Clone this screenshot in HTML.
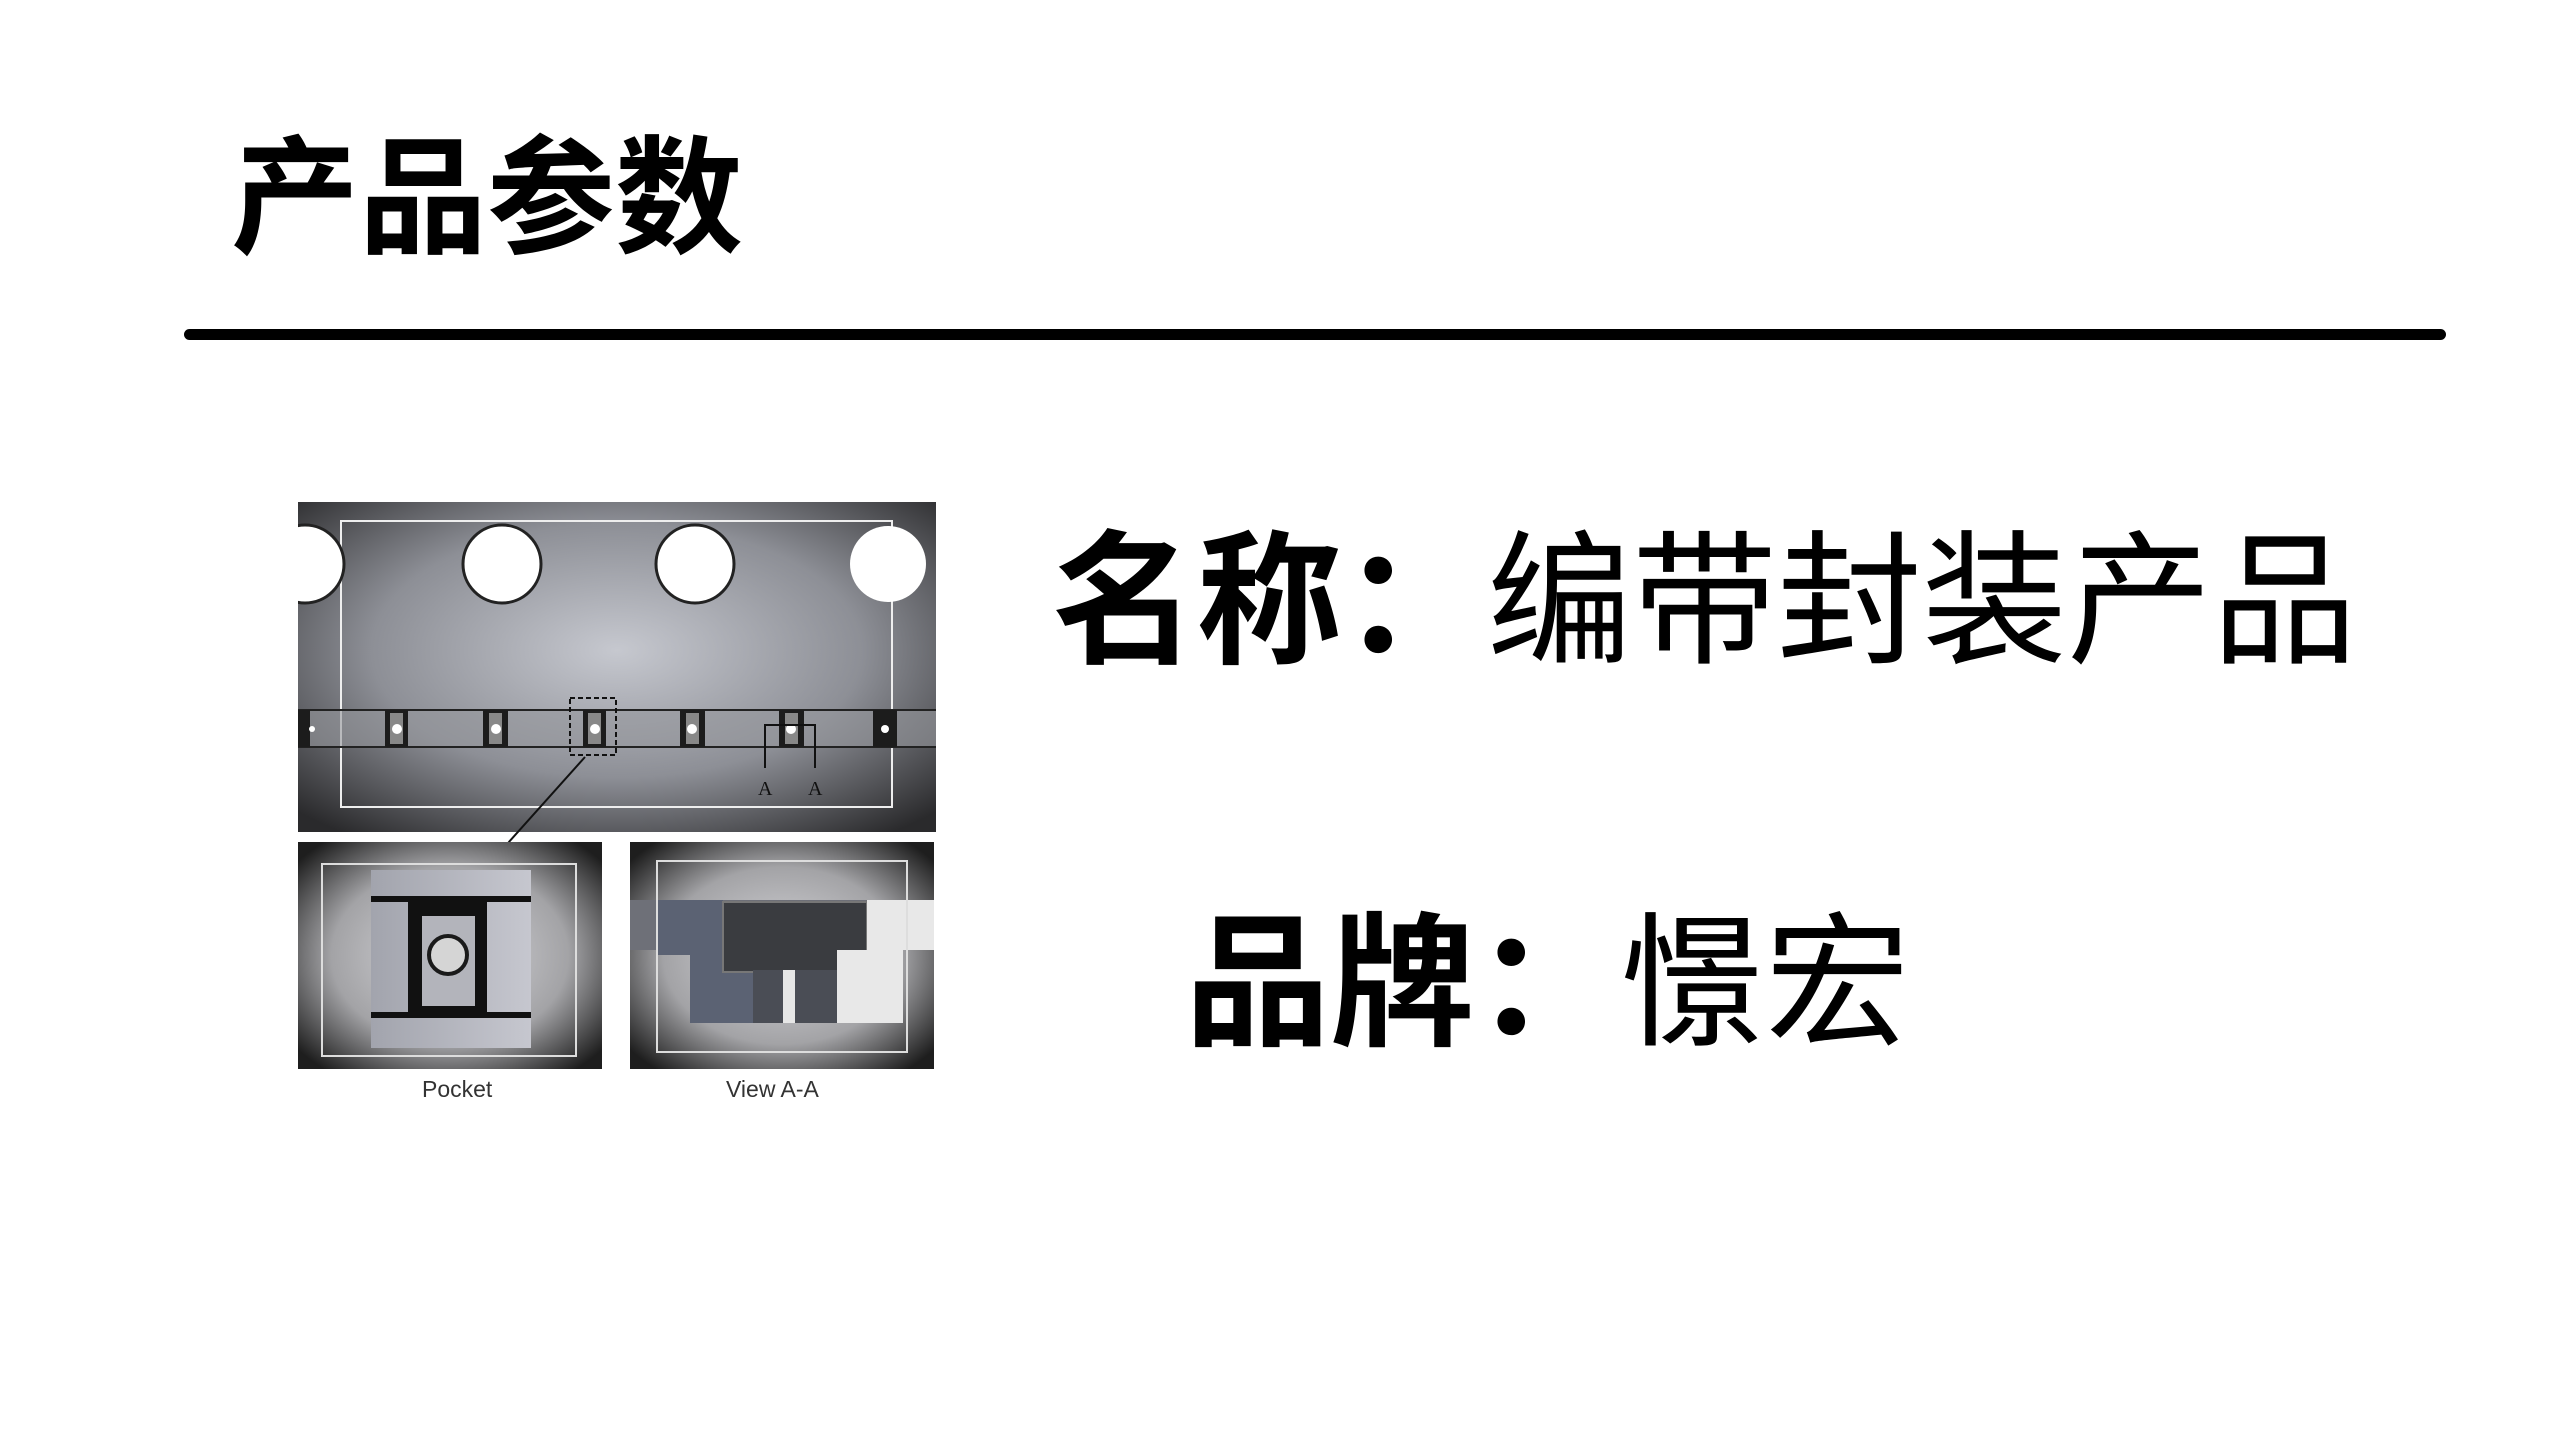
<!DOCTYPE html>
<html><head><meta charset="utf-8"><style>
html,body{margin:0;padding:0;background:#fff;width:2560px;height:1440px;overflow:hidden}
.t{position:absolute;white-space:nowrap;color:#000;font-family:"Liberation Sans","Noto Sans CJK SC",sans-serif;line-height:1}
</style></head><body>
<div class="t" style="left:231px;top:136px;font-size:128px;font-weight:bold;">产品参数</div>
<div style="position:absolute;left:184px;top:329px;width:2262px;height:11px;background:#000;border-radius:6px"></div>
<div class="t" style="left:1052px;top:530px;font-size:145px;"><b>名称：</b>编带封装产品</div>
<div class="t" style="left:1185px;top:912px;font-size:145px;"><b>品牌：</b>憬宏</div>

<svg width="2560" height="1440" style="position:absolute;left:0;top:0" xmlns="http://www.w3.org/2000/svg">
<defs>
<radialGradient id="g1" cx="0.5" cy="0.45" r="0.7">
<stop offset="0" stop-color="#c6c8cf"/><stop offset="0.55" stop-color="#8d8f96"/><stop offset="1" stop-color="#2a2a2c"/></radialGradient>
<radialGradient id="g2" cx="0.5" cy="0.5" r="0.65">
<stop offset="0" stop-color="#d8d8dc"/><stop offset="0.6" stop-color="#a3a3a6"/><stop offset="1" stop-color="#1e1e1e"/></radialGradient>
<linearGradient id="gp" x1="0" y1="0" x2="1" y2="0"><stop offset="0" stop-color="#a2a4ad"/><stop offset="1" stop-color="#c6c7cf"/></linearGradient>
<clipPath id="cp"><rect x="298" y="502" width="638" height="330"/></clipPath>
</defs>
<g clip-path="url(#cp)">
<rect x="298" y="502" width="638" height="330" fill="url(#g1)"/>
<rect x="341" y="521" width="551" height="286" fill="none" stroke="#eee" stroke-width="2"/>
<g fill="#fff" stroke="#222" stroke-width="3">
<circle cx="305" cy="564" r="39"/><circle cx="502" cy="564" r="39"/><circle cx="695" cy="564" r="39"/><circle cx="888" cy="564" r="38" stroke="none"/>
</g>
<rect x="298" y="710" width="638" height="37" fill="#96979d" opacity="0.6"/>
<line x1="298" y1="710" x2="936" y2="710" stroke="#222" stroke-width="2"/>
<line x1="298" y1="747" x2="936" y2="747" stroke="#222" stroke-width="2"/>
<g fill="#1c1c1c">
<rect x="385" y="710" width="23" height="37"/><rect x="483" y="710" width="25" height="37"/><rect x="583" y="710" width="23" height="37"/><rect x="680" y="710" width="25" height="37"/><rect x="779" y="710" width="25" height="37"/><rect x="873" y="710" width="24" height="37"/><rect x="298" y="710" width="12" height="37"/>
</g>
<g fill="#888"><rect x="390" y="713" width="13" height="31"/><rect x="489" y="713" width="13" height="31"/><rect x="588" y="713" width="13" height="31"/><rect x="686" y="713" width="13" height="31"/><rect x="785" y="713" width="13" height="31"/></g>
<g fill="#fff"><circle cx="397" cy="729" r="5"/><circle cx="496" cy="729" r="5"/><circle cx="595" cy="729" r="5"/><circle cx="692" cy="729" r="5"/><circle cx="791" cy="729" r="5"/><circle cx="885" cy="729" r="4"/><circle cx="312" cy="729" r="3"/></g>
</g>
<rect x="570" y="698" width="46" height="57" fill="none" stroke="#111" stroke-width="2" stroke-dasharray="5,3"/>
<path d="M765 768V725H815V768" fill="none" stroke="#111" stroke-width="2"/>
<text x="758" y="795" font-family="Liberation Serif" font-size="20" fill="#111">A</text>
<text x="808" y="795" font-family="Liberation Serif" font-size="20" fill="#111">A</text>
<line x1="585" y1="757" x2="500" y2="852" stroke="#111" stroke-width="2"/>
<path d="M495 860 L498 846 L506 852 Z" fill="#111"/>
<rect x="298" y="842" width="304" height="227" fill="url(#g2)"/>
<rect x="322" y="864" width="254" height="192" fill="none" stroke="#ddd" stroke-width="2"/>
<rect x="371" y="870" width="160" height="178" fill="url(#gp)"/>
<rect x="371" y="896" width="160" height="6" fill="#111"/>
<rect x="371" y="1012" width="160" height="6" fill="#111"/>
<rect x="408" y="896" width="79" height="122" fill="#111"/>
<rect x="422" y="916" width="53" height="90" fill="#b3b4bb"/>
<circle cx="448" cy="955" r="19" fill="#d5d5d5" stroke="#1a1a1a" stroke-width="4"/>
<rect x="630" y="842" width="304" height="227" fill="url(#g2)"/>
<rect x="630" y="900" width="304" height="50" fill="#6e7078"/>
<path d="M657 900H723V972H753V1023H690V955H657Z" fill="#5b6273"/>
<rect x="723" y="902" width="144" height="70" fill="#3a3c40" stroke="#777" stroke-width="2"/>
<rect x="753" y="970" width="84" height="53" fill="#4a4d55"/>
<rect x="783" y="970" width="12" height="53" fill="#e6e6e6"/>
<path d="M867 900H934V950H903V1023H837V950H867Z" fill="#e8e8e8"/>
<rect x="657" y="861" width="250" height="191" fill="none" stroke="#ddd" stroke-width="2"/>
<text x="422" y="1097" font-family="Liberation Sans" font-size="23" fill="#333">Pocket</text>
<text x="726" y="1097" font-family="Liberation Sans" font-size="23" fill="#333">View A-A</text>
</svg>
</body></html>
